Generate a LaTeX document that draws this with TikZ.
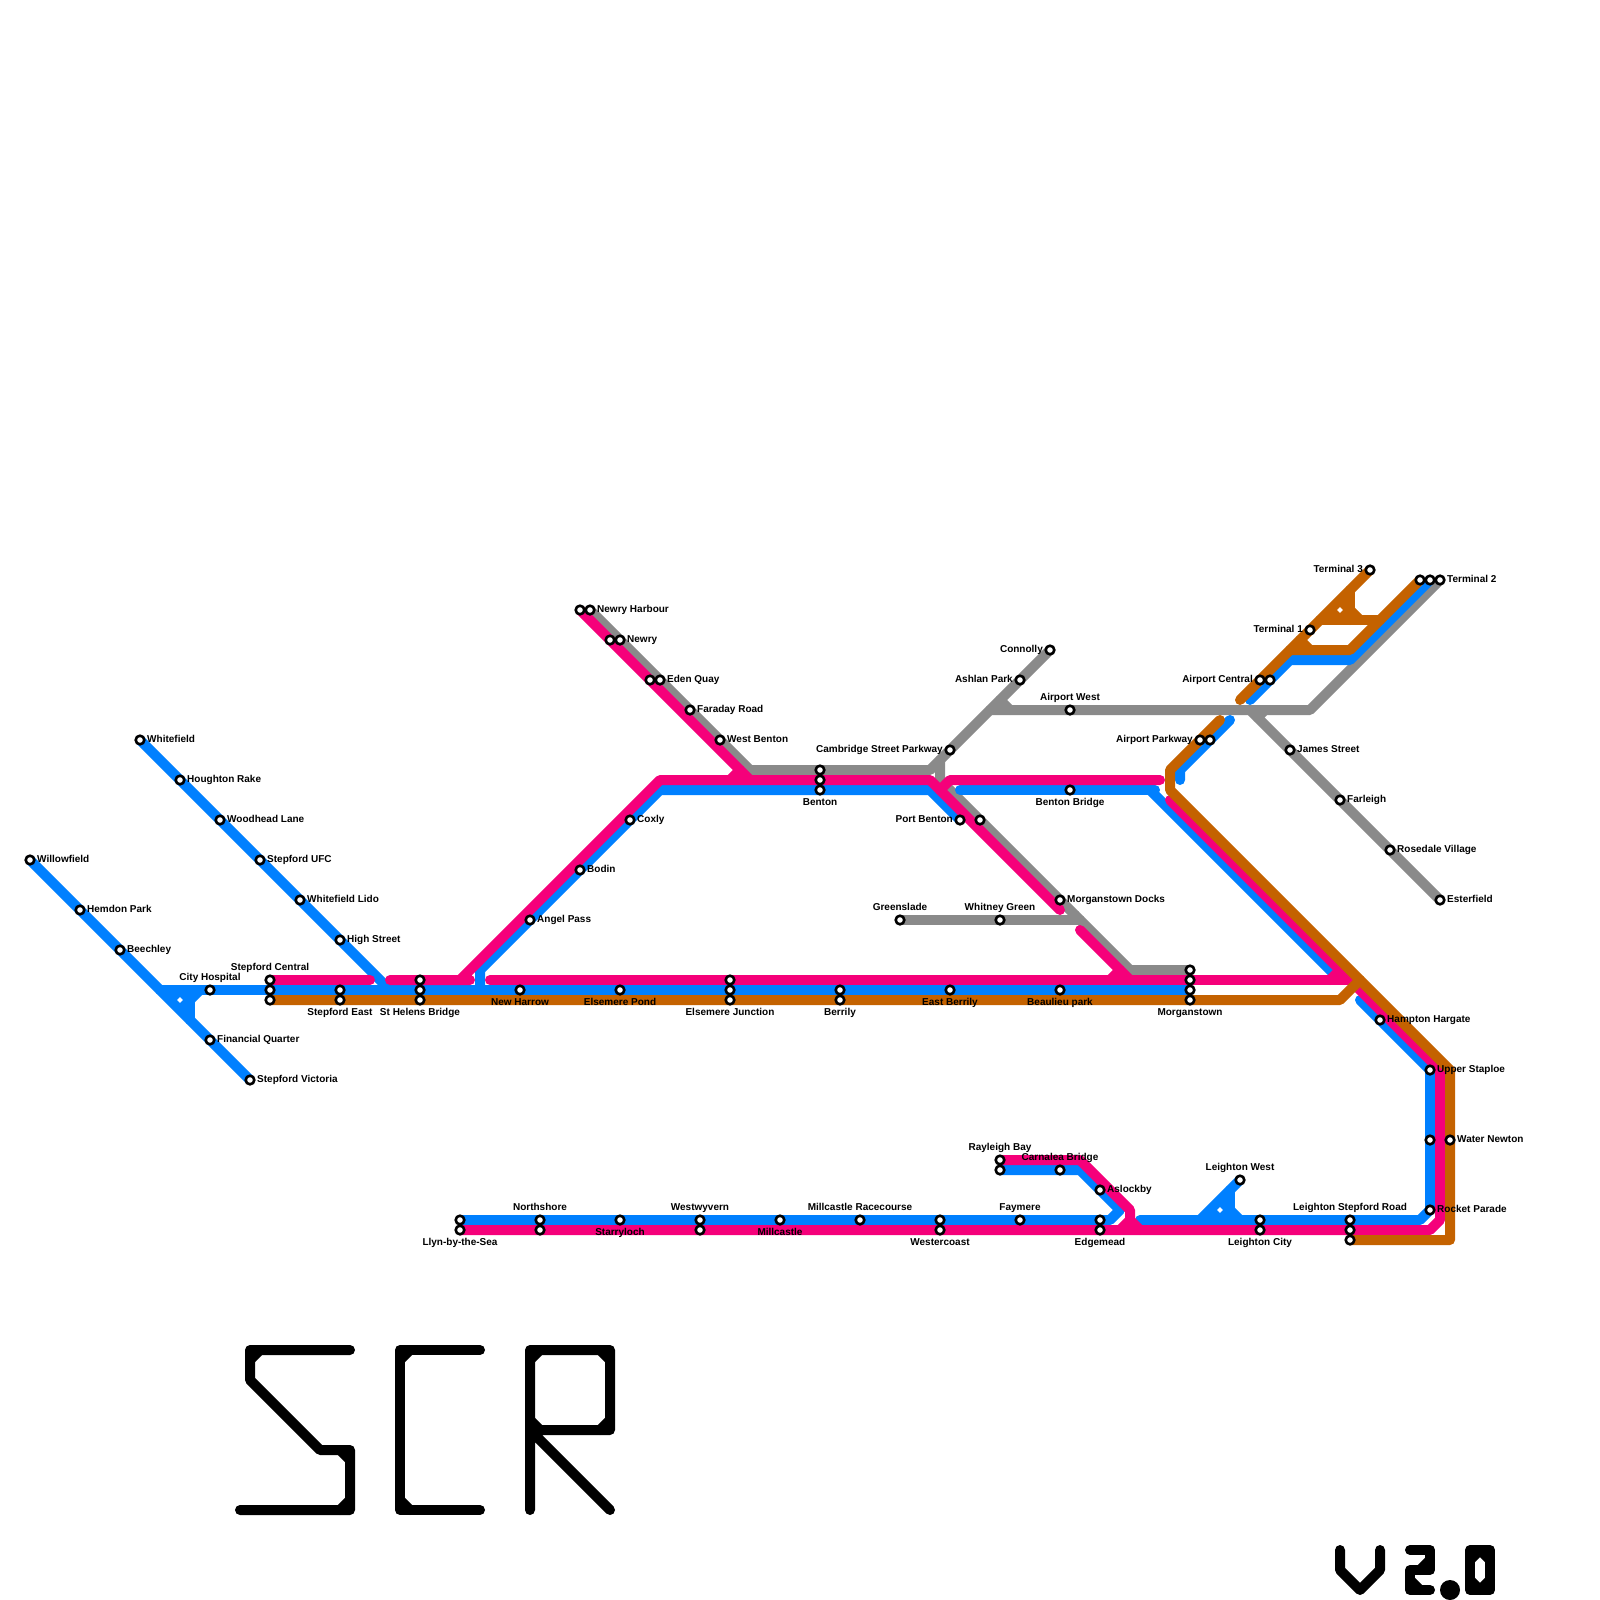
\documentclass[tikz,border=0pt]{standalone}
\usepackage{fontspec}
\setmainfont{Liberation Sans}
\pgfdeclarelayer{lines}
\pgfsetlayers{lines,main}
\definecolor{lblue}{RGB}{0,128,255}
\definecolor{lpink}{RGB}{245,0,122}
\definecolor{lorange}{RGB}{196,98,0}
\definecolor{lgray}{RGB}{138,138,138}
\tikzset{
  st/.style={circle,draw=black,fill=white,line width=1.3pt,minimum size=4.3pt,inner sep=0pt,outer sep=0pt},
  lab/.style={font=\fontsize{5}{6}\selectfont\bfseries,inner sep=0pt,outer sep=0pt,text=black},
  trk/.style={line width=5pt,line cap=round,line join=round},
  gr/.style={trk,draw=lgray},
  bl/.style={trk,draw=lblue},
  pk/.style={trk,draw=lpink},
  og/.style={trk,draw=lorange},
  logo/.style={trk,draw=black}
}
\newcommand\Sn[3]{\node[st] (#1) at (#2,#3) {};}
\newcommand\Lr[3]{\node[lab,anchor=mid west] (#1-t) at ([xshift=3.6pt,yshift=1.2pt]#1.center) {#3};}
\newcommand\Ll[3]{\node[lab,anchor=mid east] (#1-t) at ([xshift=-3.6pt,yshift=1.2pt]#1.center) {#3};}
\newcommand\La[3]{\node[lab,anchor=base] (#1-t) at ([yshift=4.9pt]#1.center) {#3};}
\newcommand\Lb[3]{\node[lab,anchor=base] (#1-t) at ([yshift=-7.7pt]#1.center) {#3};}
\newcommand\Hole[2]{\fill[white] (#1-2.8,#2) -- (#1,#2-2.8) -- (#1+2.8,#2) -- (#1,#2+2.8) -- cycle;}
\begin{document}
\begin{tikzpicture}[x=0.5pt,y=-0.5pt]
\useasboundingbox (0,0) rectangle (1600,1600);
% stations
\Sn{wf}{140}{740}\Sn{hr}{180}{780}\Sn{wl}{220}{820}\Sn{su}{260}{860}\Sn{wfl}{300}{900}\Sn{hs}{340}{940}
\Sn{wi}{30}{860}\Sn{hp}{80}{910}\Sn{be}{120}{950}\Sn{ch}{210}{990}\Sn{fq}{210}{1040}\Sn{sv}{250}{1080}
\Sn{sca}{270}{980}\Sn{scb}{270}{990}\Sn{scc}{270}{1000}
\Sn{sea}{340}{990}\Sn{seb}{340}{1000}
\Sn{sha}{420}{980}\Sn{shb}{420}{990}\Sn{shc}{420}{1000}
\Sn{nh}{520}{990}\Sn{ep}{620}{990}
\Sn{eja}{730}{980}\Sn{ejb}{730}{990}\Sn{ejc}{730}{1000}
\Sn{bya}{840}{990}\Sn{byb}{840}{1000}
\Sn{eb}{950}{990}\Sn{bp}{1060}{990}
\Sn{moa}{1190}{970}\Sn{mob}{1190}{980}\Sn{moc}{1190}{990}\Sn{mod}{1190}{1000}
\Sn{ap}{530}{920}\Sn{bo}{580}{870}\Sn{co}{630}{820}
\Sn{bna}{820}{770}\Sn{bnb}{820}{780}\Sn{bnc}{820}{790}
\Sn{nhp}{580}{610}\Sn{nhg}{590}{610}
\Sn{nwp}{610}{640}\Sn{nwg}{620}{640}
\Sn{eqp}{650}{680}\Sn{eqg}{660}{680}
\Sn{fr}{690}{710}\Sn{wb}{720}{740}
\Sn{csp}{950}{750}\Sn{ash}{1020}{680}\Sn{con}{1050}{650}
\Sn{aw}{1070}{710}\Sn{bb}{1070}{790}
\Sn{pb}{960}{820}\Sn{pbg}{980}{820}
\Sn{gs}{900}{920}\Sn{wg}{1000}{920}\Sn{md}{1060}{900}
\Sn{apo}{1200}{740}\Sn{apb}{1210}{740}
\Sn{aco}{1260}{680}\Sn{acb}{1270}{680}
\Sn{tone}{1310}{630}\Sn{tth}{1370}{570}
\Sn{tta}{1420}{580}\Sn{ttb}{1430}{580}\Sn{ttc}{1440}{580}
\Sn{js}{1290}{750}\Sn{fa}{1340}{800}\Sn{rv}{1390}{850}\Sn{es}{1440}{900}
\Sn{hh}{1380}{1020}\Sn{us}{1430}{1070}\Sn{wnb}{1430}{1140}\Sn{wn}{1450}{1140}\Sn{rp}{1430}{1210}
\Sn{lsa}{1350}{1220}\Sn{lsb}{1350}{1230}\Sn{lsc}{1350}{1240}
\Sn{lca}{1260}{1220}\Sn{lcb}{1260}{1230}\Sn{lw}{1240}{1180}
\Sn{ema}{1100}{1220}\Sn{emb}{1100}{1230}\Sn{al}{1100}{1190}
\Sn{rba}{1000}{1160}\Sn{rbb}{1000}{1170}\Sn{cb}{1060}{1170}
\Sn{fy}{1020}{1220}\Sn{wca}{940}{1220}\Sn{wcb}{940}{1230}
\Sn{mr}{860}{1220}\Sn{mi}{780}{1220}
\Sn{wva}{700}{1220}\Sn{wvb}{700}{1230}
\Sn{sl}{620}{1220}
\Sn{nsa}{540}{1220}\Sn{nsb}{540}{1230}
\Sn{lla}{460}{1220}\Sn{llb}{460}{1230}
% free ends of the lines
\coordinate (jA) at (390,990);\coordinate (jB) at (160,990);\coordinate (jC) at (190,1020);
\coordinate (jD) at (480,990);\coordinate (jE) at (960,790);\coordinate (jF) at (1333,973);
\coordinate (jG) at (1360,1000);\coordinate (jH) at (1180,780);\coordinate (jI) at (1230,720);
\coordinate (jJ) at (1250,700);\coordinate (jK) at (1140,1220);\coordinate (jL) at (1110,1220);
\coordinate (jM) at (370,980);\coordinate (jN) at (390,980);\coordinate (jO) at (470,980);
\coordinate (jP) at (490,980);\coordinate (jQ) at (1350,980);\coordinate (jR) at (1060,910);
\coordinate (jS) at (1160,780);\coordinate (jT) at (1080,930);\coordinate (jU) at (1170,800);
\coordinate (jV) at (1220,720);\coordinate (jW) at (1240,700);\coordinate (jX) at (1080,920);
\coordinate (jY) at (1120,1210);
\begin{pgfonlayer}{lines}
% gray
\draw[gr] (nhg.center) -- (750,770) -- (930,770) -- (940,760) -- (con.center);
\draw[gr] (940,760) -- (940,780) -- (1130,970) -- (moa.center);
\draw[gr] (990,710) -- (1310,710) -- (ttc.center);
\draw[gr] (1000,700) -- (1010,710);
\draw[gr] (1250,710) -- (es.center);
\draw[gr] (1265,710) -- (1257.5,717.5);
\draw[gr] (gs.center) -- (jX);
\draw[gr] (1070,920) -- (1075,915);
% blue
\draw[bl] (wf.center) -- (jA);
\draw[bl] (wi.center) -- (sv.center);
\draw[bl] (jB) -- (moc.center);
\draw[bl] (190,990) -- (jC);
\draw[bl] (190,1000) -- (200,990);
\fill[lblue] (160,990) -- (190,990) -- (190,1020) -- cycle;
\Hole{180}{1000}
\draw[bl] (jD) -- (480,970) -- (660,790) -- (930,790) -- (pb.center);
\draw[bl] (jE) -- (1155,790);
\draw[bl] (1150,790) -- (jF);
\draw[bl] (jG) -- (1430,1070) -- (1430,1210) -- (1420,1220) -- (jK);
\draw[bl] (lla.center) -- (jL) -- (jY) -- (1080,1170) -- (rbb.center);
\draw[bl] (jH) -- (1180,770) -- (jI);
\draw[bl] (jJ) -- (1290,660) -- (1350,660) -- (ttb.center);
\draw[bl] (lw.center) -- (1200,1220);
\draw[bl] (1230,1190) -- (1230,1220);
\draw[bl] (1230,1210) -- (1240,1220);
\fill[lblue] (1200,1220) -- (1230,1220) -- (1230,1190) -- cycle;
\Hole{1220}{1210}
% pink
\draw[pk] (sca.center) -- (jM);
\draw[pk] (jN) -- (jO) -- (460,980) -- (660,780) -- (930,780) -- (jR);
\draw[pk] (740,770) -- (730,780);
\draw[pk] (nhp.center) -- (750,780);
\draw[pk] (940,790) -- (950,780) -- (jS);
\draw[pk] (jP) -- (jQ);
\draw[pk] (jT) -- (1130,980);
\draw[pk] (1120,970) -- (1110,980);
\draw[pk] (1340,970) -- (1330,980);
\draw[pk] (jU) -- (1440,1070) -- (1440,1220) -- (1430,1230) -- (llb.center);
\draw[pk] (rba.center) -- (1080,1160) -- (1130,1210) -- (1130,1220) -- (1140,1230);
\draw[pk] (1130,1220) -- (1120,1230);
% orange
\draw[og] (scc.center) -- (1340,1000) -- (1360,980);
\draw[og] (jV) -- (1170,770) -- (1170,790) -- (1450,1070) -- (1450,1240) -- (lsc.center);
\draw[og] (jW) -- (tth.center);
\draw[og] (tta.center) -- (1350,650) -- (1290,650);
\draw[og] (1310,650) -- (1300,640);
\draw[og] (1320,620) -- (1380,620);
\draw[og] (1350,590) -- (1350,620);
\draw[og] (1350,610) -- (1360,620);
\fill[lorange] (1320,620) -- (1350,620) -- (1350,590) -- cycle;
\Hole{1340}{610}
% SCR
\draw[logo] (350,1350) -- (250,1350) -- (250,1380) -- (320,1450) -- (350,1450) -- (350,1510) -- (240,1510);
\draw[logo] (260,1350) -- (250,1360) (340,1450) -- (350,1460) (350,1500) -- (340,1510);
\draw[logo] (480,1350) -- (400,1350) -- (400,1510) -- (480,1510);
\draw[logo] (410,1350) -- (400,1360) (400,1500) -- (410,1510);
\draw[logo] (530,1510) -- (530,1350) -- (610,1350) -- (610,1430) -- (530,1430) -- (610,1510);
\draw[logo] (540,1350) -- (530,1360) (600,1350) -- (610,1360) (610,1420) -- (600,1430) (530,1420) -- (540,1430) (530,1440) -- (540,1430);
% version
\draw[logo] (1340,1550) -- (1340,1570) -- (1360,1590) -- (1380,1570) -- (1380,1550);
\draw[logo] (1410,1550) -- (1430,1550) -- (1430,1570) -- (1410,1570) -- (1410,1590) -- (1430,1590);
\draw[logo] (1430,1560) -- (1420,1570) (1410,1580) -- (1420,1590);
\fill[black] (1450,1590) circle[radius=10];
\draw[logo] (1470,1550) rectangle (1490,1590);
\draw[logo] (1480,1550) -- (1470,1560) (1480,1550) -- (1490,1560) (1470,1580) -- (1480,1590) (1490,1580) -- (1480,1590);
\end{pgfonlayer}
% labels right
\Lr{wf}{}{Whitefield}\Lr{hr}{}{Houghton Rake}\Lr{wl}{}{Woodhead Lane}\Lr{su}{}{Stepford UFC}\Lr{wfl}{}{Whitefield Lido}\Lr{hs}{}{High Street}
\Lr{wi}{}{Willowfield}\Lr{hp}{}{Hemdon Park}\Lr{be}{}{Beechley}\Lr{fq}{}{Financial Quarter}\Lr{sv}{}{Stepford Victoria}
\Lr{ap}{}{Angel Pass}\Lr{bo}{}{Bodin}\Lr{co}{}{Coxly}\Lr{nhg}{}{Newry Harbour}\Lr{nwg}{}{Newry}\Lr{eqg}{}{Eden Quay}\Lr{fr}{}{Faraday Road}\Lr{wb}{}{West Benton}
\Lr{md}{}{Morganstown Docks}\Lr{js}{}{James Street}\Lr{fa}{}{Farleigh}\Lr{rv}{}{Rosedale Village}\Lr{es}{}{Esterfield}\Lr{ttc}{}{Terminal 2}
\Lr{hh}{}{Hampton Hargate}\Lr{us}{}{Upper Staploe}\Lr{wn}{}{Water Newton}\Lr{rp}{}{Rocket Parade}\Lr{al}{}{Aslockby}
% labels left
\Ll{con}{}{Connolly}\Ll{ash}{}{Ashlan Park}\Ll{csp}{}{Cambridge Street Parkway}\Ll{pb}{}{Port Benton}\Ll{apo}{}{Airport Parkway}\Ll{aco}{}{Airport Central}\Ll{tone}{}{Terminal 1}\Ll{tth}{}{Terminal 3}
% labels above
\La{ch}{}{City Hospital}\La{sca}{}{Stepford Central}\La{nsa}{}{Northshore}\La{wva}{}{Westwyvern}\La{mr}{}{Millcastle Racecourse}\La{fy}{}{Faymere}\La{lsa}{}{Leighton Stepford Road}\La{lw}{}{Leighton West}\La{rba}{}{Rayleigh Bay}\La{cb}{}{Carnalea Bridge}\La{wg}{}{Whitney Green}\La{gs}{}{Greenslade}\La{aw}{}{Airport West}
% labels below
\Lb{seb}{}{Stepford East}\Lb{shc}{}{St Helens Bridge}\Lb{nh}{}{New Harrow}\Lb{ep}{}{Elsemere Pond}\Lb{ejc}{}{Elsemere Junction}\Lb{byb}{}{Berrily}\Lb{eb}{}{East Berrily}\Lb{bp}{}{Beaulieu park}\Lb{mod}{}{Morganstown}\Lb{bnc}{}{Benton}\Lb{bb}{}{Benton Bridge}\Lb{llb}{}{Llyn-by-the-Sea}\Lb{sl}{}{Starryloch}\Lb{mi}{}{Millcastle}\Lb{wcb}{}{Westercoast}\Lb{emb}{}{Edgemead}\Lb{lcb}{}{Leighton City}
\end{tikzpicture}
\end{document}
